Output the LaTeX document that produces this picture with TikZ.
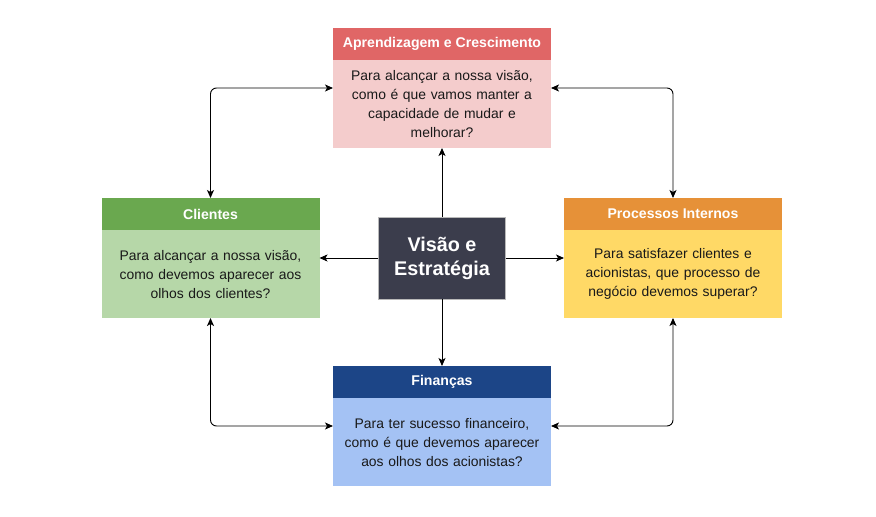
\documentclass[tikz,border=0pt]{standalone}
\usepackage{fontspec}
\setmainfont{Liberation Sans}
\usetikzlibrary{positioning,arrows.meta}

\begin{document}
\begin{tikzpicture}[x=1pt,y=-1pt,
  quad/.style={minimum width=218pt, minimum height=120pt, inner sep=0pt, outer sep=0pt},
  head/.style={minimum width=218pt, minimum height=32pt, inner sep=0pt, outer sep=0pt, text=white, font=\fontsize{14.1}{16}\selectfont\bfseries},
  txt/.style={text width=205pt, minimum height=88pt, inner sep=0pt, align=center, text=black!90, font=\fontsize{13.9}{19}\selectfont},
  link/.style={draw, -{Stealth[length=8pt,width=7pt,inset=2pt]}, line width=0.9pt},
  twoway/.style={draw, {Stealth[length=8pt,width=7pt,inset=2pt]}-{Stealth[length=8pt,width=7pt,inset=2pt]}, line width=0.9pt, rounded corners=6pt}]
\definecolor{aprendhead}{HTML}{E06666}
\definecolor{aprendbody}{HTML}{F4CCCC}
\definecolor{clihead}{HTML}{6AA84F}
\definecolor{clibody}{HTML}{B6D7A8}
\definecolor{prochead}{HTML}{E69138}
\definecolor{procbody}{HTML}{FFD966}
\definecolor{finhead}{HTML}{1C4587}
\definecolor{finbody}{HTML}{A4C2F4}
\definecolor{centerfill}{HTML}{3B3D4C}

\useasboundingbox (0,0) rectangle (876,517);

% top
\node[quad, fill=aprendbody] (aprend) at (442,88) {};
\node[head, fill=aprendhead, anchor=north] (aprendtit) at (aprend.north) {Aprendizagem e Crescimento};
\node[txt, below=0pt of aprendtit] (aprendtxt) {Para alcançar a nossa visão,\\como é que vamos manter a\\capacidade de mudar e\\melhorar?};

% left
\node[quad, fill=clibody] (clientes) at (210.5,258) {};
\node[head, fill=clihead, anchor=north] (clientestit) at (clientes.north) {Clientes};
\node[txt, below=0pt of clientestit] (clientestxt) {Para alcançar a nossa visão,\\como devemos aparecer aos\\olhos dos clientes?};

% right
\node[quad, fill=procbody] (processos) at (673,258) {};
\node[head, fill=prochead, anchor=north] (processostit) at (processos.north) {Processos Internos};
\node[txt, below=0pt of processostit] (processostxt) {Para satisfazer clientes e\\acionistas, que processo de\\negócio devemos superar?};

% bottom
\node[quad, fill=finbody] (financas) at (442,426) {};
\node[head, fill=finhead, anchor=north] (financastit) at (financas.north) {Finanças};
\node[txt, below=0pt of financastit] (financastxt) {Para ter sucesso financeiro,\\como é que devemos aparecer\\aos olhos dos acionistas?};

% centre
\node[draw=gray!55, fill=centerfill, minimum width=127pt, minimum height=82pt, text=white, align=center, font=\fontsize{19.8}{24}\selectfont\bfseries] (visao) at (442,258) {Visão e\\Estratégia};

\path[link] (visao.north) -- (aprend.south);
\path[link] (visao.west) -- (clientes.east);
\path[link] (visao.east) -- (processos.west);
\path[link] (visao.south) -- (financas.north);

\path[twoway] (clientes.north) |- (aprend.west);
\path[twoway] (aprend.east) -| (processos.north);
\path[twoway] (clientes.south) |- (financas.west);
\path[twoway] (financas.east) -| (processos.south);
\end{tikzpicture}
\end{document}
